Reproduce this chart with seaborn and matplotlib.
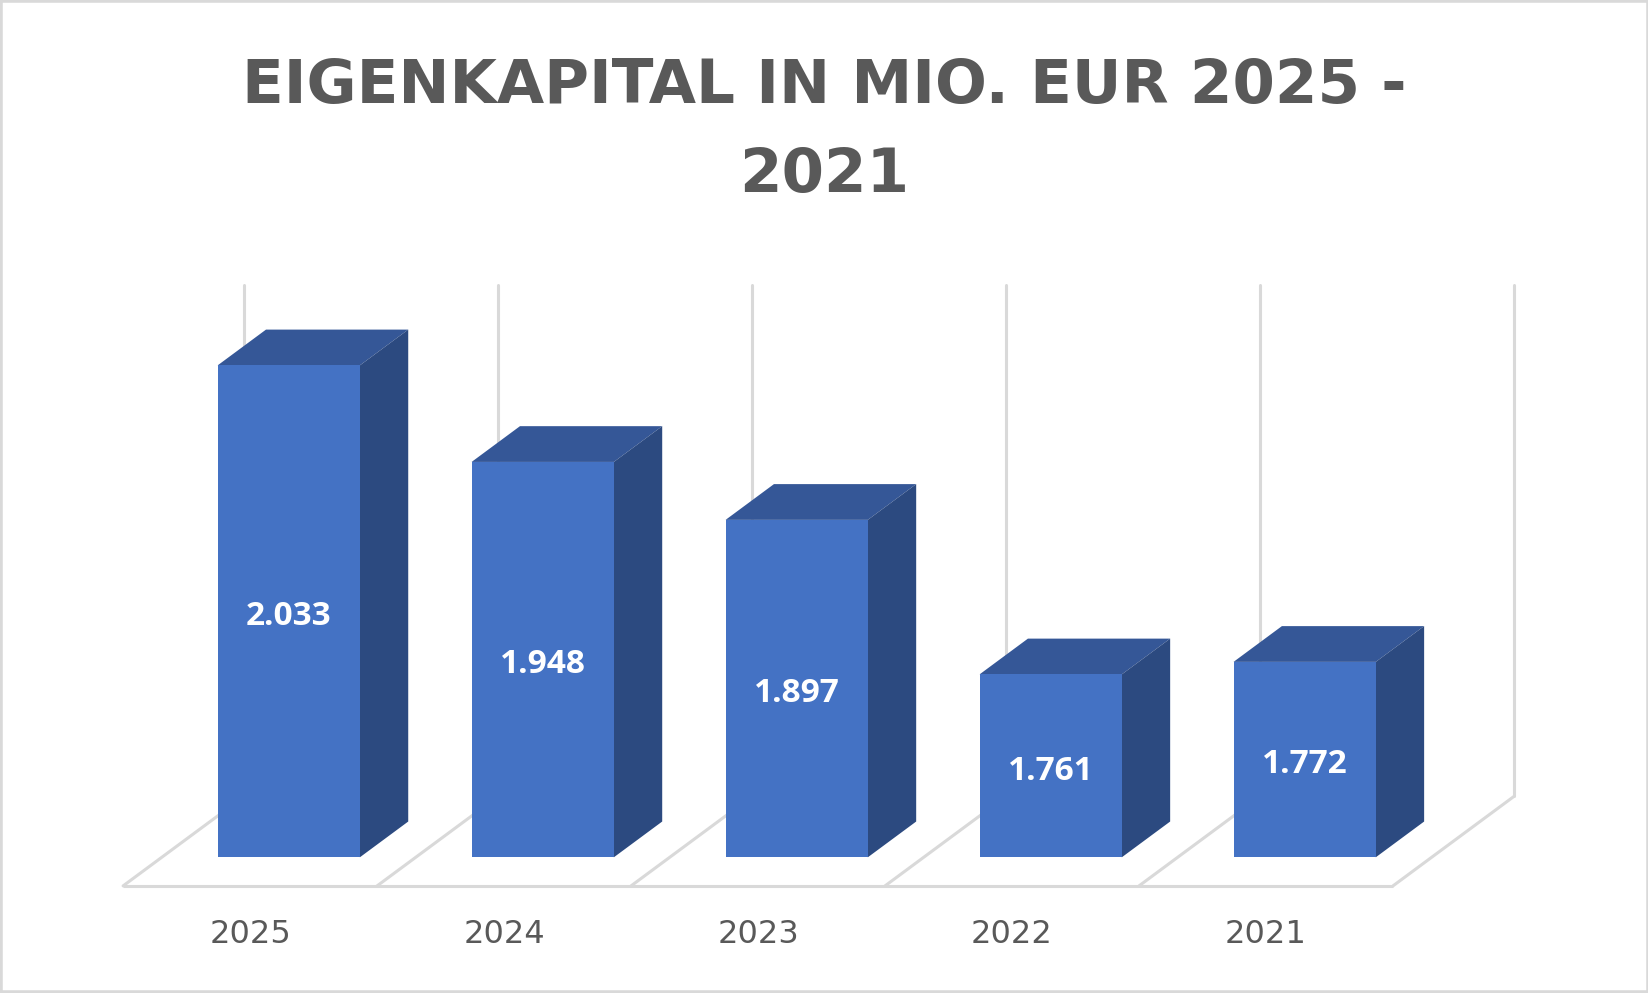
import numpy as np
import pandas as pd
import seaborn as sns
import matplotlib.pyplot as plt
from matplotlib.patches import Polygon, Rectangle

#%% data
years = ["2025", "2024", "2023", "2022", "2021"]
equity = [2033, 1948, 1897, 1761, 1772]  # Mio. EUR
value_min = 1600   # floor of the 3D value axis
value_max = 2050   # top of the back wall
title = "EIGENKAPITAL IN MIO. EUR 2025 -\n2021"

#%% style
front_col = "#4472C4"
top_col = "#355797"
side_col = "#2C4A80"
grid_col = "#D9D9D9"
text_col = "#595959"

# fake perspective: floor depth in data units, bars sit between f0 and f0+bar_depth
depth_dx = 0.476
depth_dy = 78.7
f0 = 0.32
bar_depth = 0.40

sns.set_style("white")
plt.rcParams["font.family"] = ["DejaVu Sans"]

fig = plt.figure(figsize=(16.49, 9.93), dpi=100)
ax = fig.add_axes([0.0596, 0.0909, 0.8856, 0.6407])

df = pd.DataFrame({"year": years, "equity": equity})
sns.barplot(data=df, x="year", y="equity", order=years, color=front_col,
            saturation=1, width=0.56, linewidth=0, ax=ax, zorder=3)
ax.set_xlim(-0.75, 5.0)
ax.set_ylim(1560, 2120)


def proj(c, t, v):
    # category c, depth t (0 front .. 1 back), value v -> 2D data coords
    return c + (t - f0) * depth_dx, v + (t - f0) * depth_dy


#%% floor + back wall lines
n = len(years)
bounds = np.arange(n + 1) - 0.5
lw_grid = 2.2
p_a = proj(bounds[0], 0, value_min)
p_b = proj(bounds[-1], 0, value_min)
ax.plot([p_a[0], p_b[0]], [p_a[1], p_b[1]], color=grid_col, lw=lw_grid, zorder=1,
        solid_capstyle="butt")
for b in bounds:
    q0 = proj(b, 0, value_min)
    q1 = proj(b, 1, value_min)
    q2 = proj(b, 1, value_max)
    ax.plot([q0[0], q1[0]], [q0[1], q1[1]], color=grid_col, lw=lw_grid, zorder=1)
    ax.plot([q1[0], q2[0]], [q1[1], q2[1]], color=grid_col, lw=lw_grid, zorder=1)

#%% turn flat bars into boxes
bdx = bar_depth * depth_dx
bdy = bar_depth * depth_dy
for p, v in zip(ax.patches, equity):
    p.set_y(value_min)
    p.set_height(v - value_min)
    x0 = p.get_x()
    x1 = x0 + p.get_width()
    top = Polygon([(x0, v), (x1, v), (x1 + bdx, v + bdy), (x0 + bdx, v + bdy)],
                  closed=True, facecolor=top_col, edgecolor="none", zorder=2.5)
    side = Polygon([(x1, value_min), (x1, v), (x1 + bdx, v + bdy),
                    (x1 + bdx, value_min + bdy)],
                   closed=True, facecolor=side_col, edgecolor="none", zorder=2.5)
    ax.add_patch(top)
    ax.add_patch(side)
    lab = f"{v:,}".replace(",", ".")
    ax.annotate(lab, xy=(x0 + p.get_width() / 2, (value_min + v) / 2),
                xytext=(0, -3.8), textcoords="offset points",
                ha="center", va="center", color="white", fontsize=24,
                fontweight="bold", family="Open Sans", zorder=4)

#%% axes cosmetics
ax.set_xticks(np.arange(n) - f0 * depth_dx, labels=years)
ax.tick_params(axis="x", length=0, pad=12, labelsize=23, labelcolor=text_col)
ax.set_yticks([])
ax.set_xlabel("")
ax.set_ylabel("")
for s in ax.spines.values():
    s.set_visible(False)

fig.text(0.5, 0.8678, title, ha="center", va="center", fontsize=44,
         fontweight="bold", color=text_col, linespacing=1.66)

fig.add_artist(Rectangle((0, 0), 1, 1, transform=fig.transFigure, fill=False,
                         edgecolor=grid_col, lw=4))

fig.savefig("out.png", dpi=100)
